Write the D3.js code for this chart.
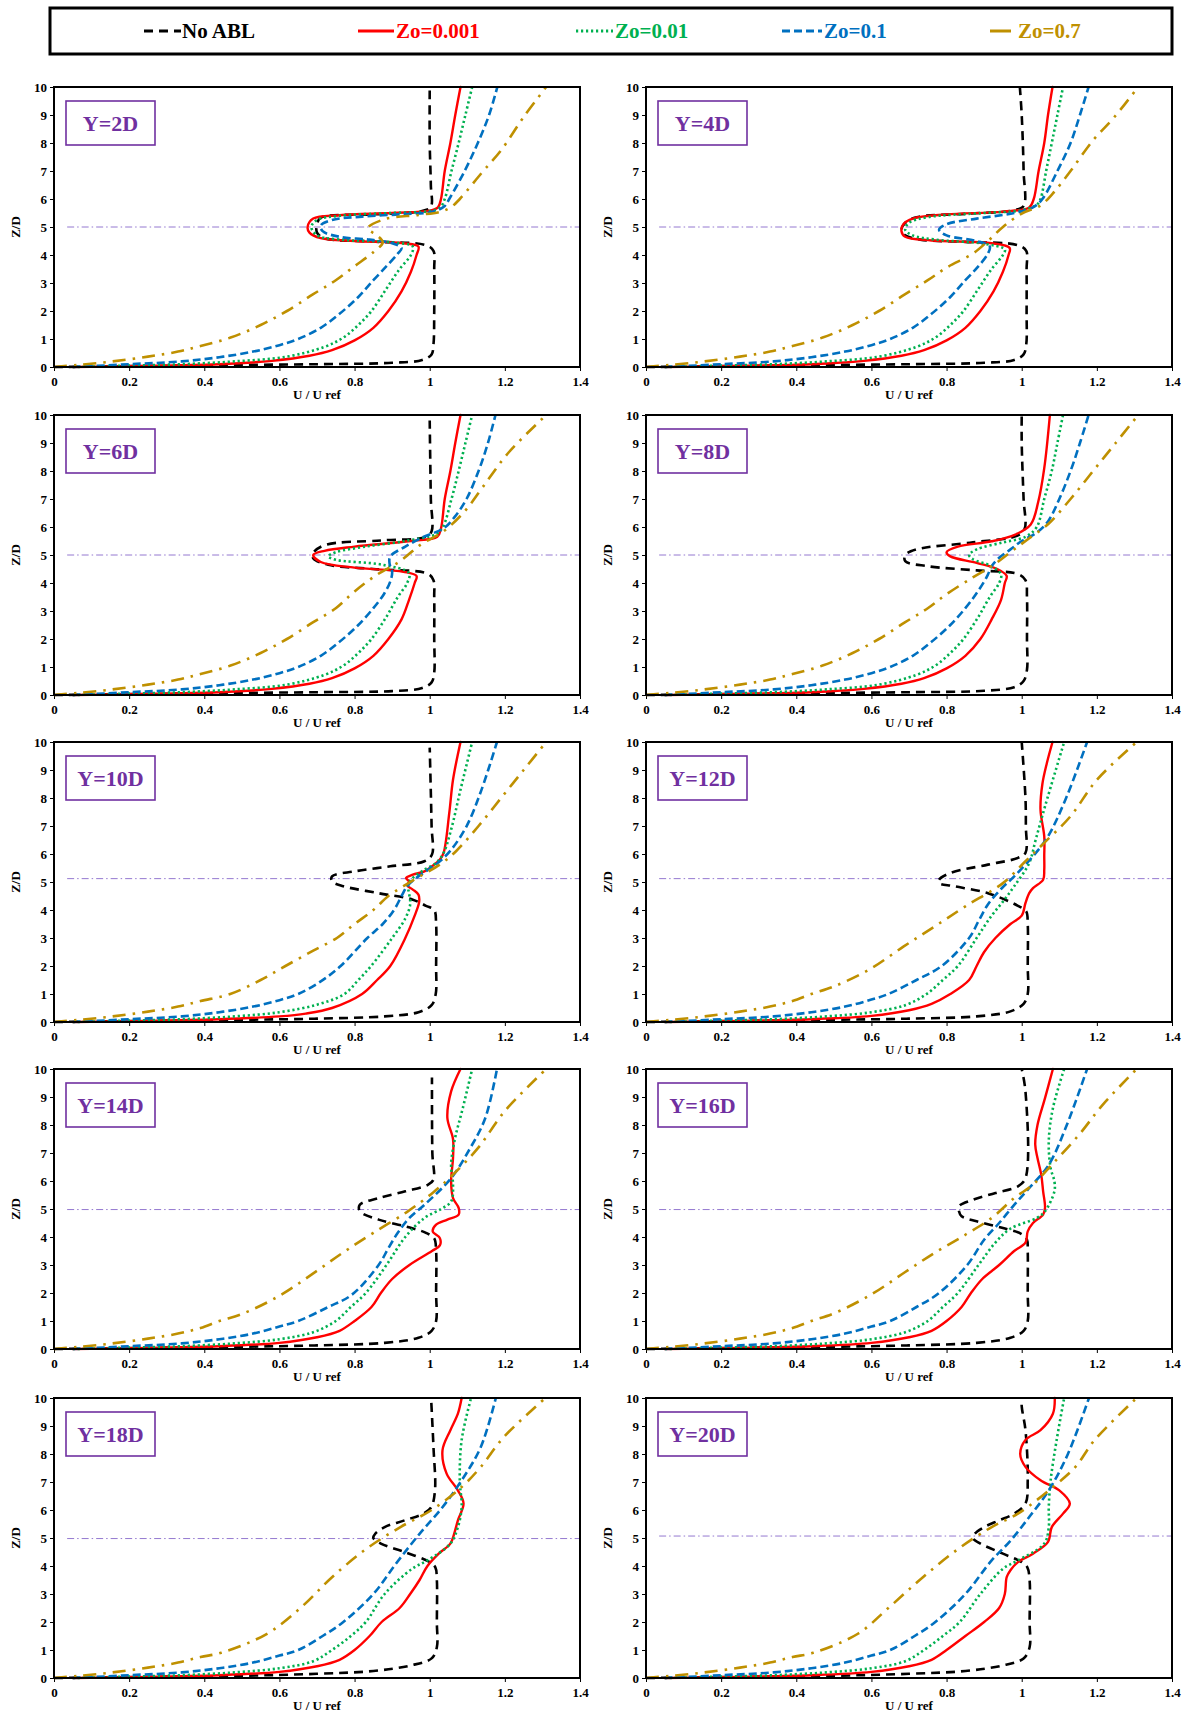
<!DOCTYPE html>
<html>
<head>
<meta charset="utf-8">
<script src="https://cdn.jsdelivr.net/npm/d3@7"></script>
<style>
  body { margin: 0; background: #fff; }
  svg { display: block; font-family: "Liberation Serif", "Times New Roman", serif; font-weight: bold; }
</style>
</head>
<body>
<div id="chart"></div>
<script>
// panel captions and the z of the dash-dot reference line in each panel
const panelLabels = ["Y=2D", "Y=4D", "Y=6D", "Y=8D", "Y=10D", "Y=12D", "Y=14D", "Y=16D", "Y=18D", "Y=20D"];
const refLineZ = [5, 5, 5, 5, 5.12, 5.12, 4.98, 4.98, 4.98, 5.07];

const seriesNames = ["No ABL", "Zo=0.001", "Zo=0.01", "Zo=0.1", "Zo=0.7"];
const xTicks = [0, 0.2, 0.4, 0.6, 0.8, 1, 1.2, 1.4];
const yTicks = [0, 1, 2, 3, 4, 5, 6, 7, 8, 9, 10];

// [U/Uref, Z/D] pairs, one array per panel
const noABL = [
  [[0,0],[0.2,0.03],[0.45,0.07],[0.7,0.1],[0.9,0.15],[0.98,0.25],[1.005,0.45],[1.01,0.8],[1.012,2],[1.012,3.5],[1.01,4.15],[0.99,4.35],[0.85,4.48],[0.72,4.6],[0.7,4.8],[0.7,5.1],[0.71,5.33],[0.85,5.45],[0.98,5.57],[1.003,5.72],[1.003,6.5],[1,8],[1,9.9]],
  [[0,0],[0.2,0.03],[0.45,0.07],[0.7,0.1],[0.9,0.15],[0.98,0.25],[1.005,0.45],[1.012,0.8],[1.013,2],[1.013,3.5],[1.012,4.15],[0.99,4.35],[0.85,4.47],[0.73,4.55],[0.69,4.7],[0.68,4.9],[0.69,5.15],[0.72,5.35],[0.85,5.47],[0.98,5.6],[1.005,5.75],[1.005,7],[1,9],[0.995,10]],
  [[0,0],[0.2,0.03],[0.45,0.07],[0.7,0.1],[0.9,0.14],[0.98,0.25],[1.005,0.45],[1.012,0.8],[1.012,2],[1.012,3.5],[1.01,4.1],[0.995,4.33],[0.85,4.5],[0.73,4.65],[0.69,4.88],[0.69,5.07],[0.72,5.35],[0.87,5.52],[0.99,5.65],[1.005,5.85],[1.003,7],[1,9.8]],
  [[0,0],[0.2,0.03],[0.45,0.07],[0.7,0.1],[0.9,0.15],[0.98,0.28],[1.005,0.5],[1.014,0.9],[1.014,2],[1.014,3.5],[1.01,4.1],[0.99,4.32],[0.88,4.45],[0.75,4.6],[0.69,4.78],[0.69,5],[0.72,5.2],[0.87,5.45],[0.99,5.7],[1.008,5.95],[1.005,7],[1,9],[1,10]],
  [[0,0],[0.25,0.04],[0.5,0.08],[0.7,0.12],[0.88,0.2],[0.97,0.35],[1.005,0.6],[1.016,1],[1.017,2],[1.017,3.5],[1.012,4],[0.99,4.15],[0.955,4.37],[0.864,4.6],[0.77,4.85],[0.74,5.02],[0.74,5.2],[0.8,5.38],[0.895,5.56],[0.986,5.74],[1.006,5.98],[1.005,7],[1,9.8]],
  [[0,0],[0.25,0.04],[0.5,0.08],[0.7,0.12],[0.88,0.2],[0.97,0.38],[1.005,0.65],[1.016,1],[1.016,2],[1.016,3.5],[1.012,3.95],[0.99,4.15],[0.91,4.6],[0.82,4.85],[0.78,4.96],[0.78,5.08],[0.81,5.32],[0.91,5.62],[0.99,5.86],[1.01,6.04],[1.011,7],[1.01,8],[1,10]],
  [[0,0],[0.25,0.04],[0.5,0.08],[0.7,0.13],[0.88,0.22],[0.97,0.4],[1.005,0.65],[1.017,1],[1.017,2],[1.017,3.5],[1.012,3.95],[0.99,4.15],[0.935,4.38],[0.864,4.62],[0.814,4.92],[0.814,5.15],[0.864,5.39],[0.935,5.63],[0.996,5.87],[1.01,6.05],[1.007,7],[1.006,9.7]],
  [[0,0],[0.25,0.04],[0.5,0.08],[0.7,0.13],[0.88,0.22],[0.97,0.4],[1.005,0.65],[1.016,1],[1.016,2],[1.016,3.5],[1.014,3.9],[1,4.1],[0.95,4.32],[0.88,4.56],[0.84,4.74],[0.833,4.92],[0.833,5.1],[0.87,5.33],[0.93,5.57],[0.99,5.81],[1.01,6.1],[1.01,9.2],[1,10]],
  [[0,0],[0.25,0.04],[0.5,0.08],[0.7,0.15],[0.85,0.25],[0.95,0.45],[1.005,0.7],[1.019,1.1],[1.019,2],[1.019,3.5],[1.015,3.95],[1,4.14],[0.933,4.5],[0.87,4.8],[0.85,5],[0.855,5.15],[0.88,5.39],[0.933,5.63],[0.983,5.87],[1.004,6.1],[1.014,6.7],[1.01,8.25],[1.004,9.9]],
  [[0,0],[0.25,0.04],[0.5,0.08],[0.7,0.15],[0.85,0.25],[0.95,0.45],[1.005,0.7],[1.021,1.1],[1.021,2],[1.021,3.5],[1.015,3.95],[1,4.14],[0.95,4.44],[0.89,4.8],[0.87,5],[0.875,5.15],[0.9,5.39],[0.94,5.63],[0.98,5.87],[1.01,6.23],[1.016,7.06],[1.01,8.85],[1,9.7],[1,10]]
];

const zo0001 = [
  [[0.05,0],[0.2,0.03],[0.44,0.1],[0.58,0.22],[0.68,0.4],[0.74,0.6],[0.8,0.95],[0.85,1.4],[0.89,2],[0.925,2.7],[0.95,3.4],[0.965,4],[0.97,4.3],[0.93,4.42],[0.8,4.5],[0.71,4.6],[0.68,4.8],[0.675,5],[0.69,5.3],[0.76,5.42],[0.9,5.5],[1,5.58],[1.022,5.7],[1.03,6],[1.04,7],[1.055,8],[1.068,9],[1.082,10]],
  [[0.05,0],[0.2,0.03],[0.44,0.1],[0.58,0.22],[0.68,0.4],[0.74,0.6],[0.8,0.95],[0.85,1.4],[0.89,2],[0.925,2.7],[0.95,3.4],[0.965,4],[0.968,4.25],[0.92,4.42],[0.76,4.52],[0.69,4.65],[0.68,4.85],[0.685,5.1],[0.71,5.3],[0.8,5.45],[0.95,5.55],[1.02,5.7],[1.032,6],[1.045,7],[1.06,8],[1.07,9],[1.082,10]],
  [[0.05,0],[0.2,0.03],[0.44,0.1],[0.58,0.22],[0.68,0.4],[0.74,0.6],[0.8,0.95],[0.85,1.4],[0.89,2],[0.925,2.7],[0.945,3.4],[0.96,4],[0.965,4.25],[0.93,4.4],[0.8,4.55],[0.71,4.75],[0.69,5],[0.72,5.15],[0.8,5.3],[0.95,5.5],[1.02,5.65],[1.03,5.95],[1.04,7],[1.055,8],[1.068,9],[1.082,10]],
  [[0.05,0],[0.2,0.03],[0.44,0.1],[0.58,0.22],[0.68,0.4],[0.74,0.6],[0.8,0.95],[0.85,1.4],[0.89,2],[0.92,2.7],[0.945,3.4],[0.955,4],[0.96,4.25],[0.935,4.5],[0.88,4.72],[0.81,4.95],[0.8,5.1],[0.83,5.3],[0.92,5.49],[0.983,5.73],[1.024,6.09],[1.044,6.9],[1.06,8.1],[1.075,10]],
  [[0.05,0],[0.2,0.03],[0.44,0.1],[0.6,0.2],[0.67,0.3],[0.74,0.5],[0.82,1],[0.86,1.5],[0.895,2],[0.935,3],[0.96,3.8],[0.972,4.3],[0.97,4.55],[0.955,4.73],[0.94,4.88],[0.945,5.02],[0.937,5.14],[0.955,5.26],[0.986,5.38],[1.006,5.56],[1.027,5.8],[1.037,6.04],[1.052,7.46],[1.062,8.65],[1.082,10]],
  [[0.05,0],[0.2,0.03],[0.44,0.1],[0.6,0.22],[0.7,0.42],[0.76,0.65],[0.81,1],[0.86,1.5],[0.88,2],[0.9,2.5],[0.93,3],[0.97,3.5],[1,3.8],[1.01,4.25],[1.02,4.6],[1.03,4.78],[1.057,5.08],[1.06,5.44],[1.06,5.92],[1.06,6.63],[1.05,7.58],[1.055,8.5],[1.067,9.25],[1.082,10]],
  [[0.05,0],[0.2,0.03],[0.44,0.1],[0.6,0.22],[0.7,0.42],[0.76,0.65],[0.8,1],[0.845,1.5],[0.87,2],[0.9,2.5],[0.946,3],[1.006,3.5],[1.027,3.7],[1.027,3.96],[1.008,4.2],[1.017,4.44],[1.047,4.62],[1.077,4.8],[1.077,5.04],[1.062,5.39],[1.057,5.99],[1.062,6.82],[1.062,7.5],[1.047,8.25],[1.057,9.2],[1.082,10]],
  [[0.05,0],[0.2,0.03],[0.44,0.1],[0.6,0.22],[0.7,0.42],[0.76,0.65],[0.8,1],[0.84,1.5],[0.865,2],[0.895,2.5],[0.94,3],[0.98,3.5],[1.01,3.8],[1.016,4.2],[1.03,4.5],[1.057,4.8],[1.062,5.04],[1.057,5.63],[1.052,6.22],[1.042,6.82],[1.036,7.3],[1.042,8],[1.062,8.96],[1.083,10]],
  [[0.05,0],[0.2,0.03],[0.44,0.1],[0.6,0.22],[0.7,0.42],[0.76,0.65],[0.8,1],[0.84,1.5],[0.872,2],[0.92,2.5],[0.948,3],[0.973,3.5],[0.994,4],[1.024,4.44],[1.055,4.8],[1.065,5.15],[1.075,5.63],[1.09,6.23],[1.075,6.7],[1.045,7.3],[1.034,8.13],[1.055,8.85],[1.075,9.44],[1.085,10]],
  [[0.05,0],[0.2,0.03],[0.44,0.1],[0.6,0.22],[0.7,0.42],[0.76,0.65],[0.8,1],[0.85,1.5],[0.9,2],[0.94,2.5],[0.955,3],[0.96,3.6],[0.97,3.85],[0.99,4.14],[1.03,4.44],[1.07,4.86],[1.08,5.39],[1.11,5.87],[1.128,6.23],[1.1,6.7],[1.05,7.06],[1.01,7.54],[0.996,8],[1.01,8.5],[1.05,8.85],[1.083,9.44],[1.088,10]]
];

const zo001 = [
  [[0.05,0],[0.2,0.05],[0.34,0.1],[0.48,0.2],[0.62,0.37],[0.72,0.72],[0.77,1.05],[0.81,1.5],[0.845,2],[0.885,2.8],[0.92,3.5],[0.95,4],[0.955,4.3],[0.9,4.45],[0.76,4.55],[0.7,4.7],[0.685,5],[0.7,5.25],[0.76,5.4],[0.9,5.5],[1,5.57],[1.028,5.7],[1.04,6],[1.058,7],[1.077,8],[1.095,9],[1.113,10]],
  [[0.05,0],[0.2,0.05],[0.34,0.1],[0.48,0.2],[0.62,0.37],[0.72,0.72],[0.77,1.05],[0.81,1.5],[0.845,2],[0.885,2.8],[0.92,3.5],[0.95,4],[0.955,4.2],[0.9,4.4],[0.77,4.55],[0.71,4.7],[0.69,4.9],[0.7,5.15],[0.75,5.35],[0.9,5.5],[1,5.6],[1.04,5.8],[1.05,6],[1.065,7],[1.08,8],[1.095,9],[1.11,10]],
  [[0.05,0],[0.2,0.05],[0.34,0.1],[0.48,0.2],[0.62,0.37],[0.72,0.72],[0.77,1.05],[0.81,1.5],[0.845,2],[0.885,2.8],[0.915,3.5],[0.94,4],[0.945,4.35],[0.875,4.65],[0.75,4.83],[0.73,4.95],[0.75,5.1],[0.83,5.3],[0.935,5.5],[1.017,5.75],[1.035,6],[1.058,7],[1.077,8],[1.095,9],[1.113,10]],
  [[0.05,0],[0.2,0.05],[0.34,0.1],[0.48,0.2],[0.62,0.37],[0.72,0.72],[0.77,1.05],[0.81,1.5],[0.845,2],[0.885,2.8],[0.915,3.5],[0.94,4],[0.945,4.3],[0.92,4.6],[0.87,4.85],[0.86,5],[0.88,5.2],[0.95,5.45],[1.01,5.65],[1.04,6],[1.06,7],[1.08,8],[1.095,9],[1.11,10]],
  [[0.05,0],[0.2,0.05],[0.34,0.1],[0.48,0.2],[0.6,0.35],[0.7,0.62],[0.773,1],[0.81,1.5],[0.844,2],[0.9,3],[0.935,3.7],[0.948,4.2],[0.945,4.6],[0.942,4.85],[0.95,5.08],[0.986,5.44],[1.017,5.68],[1.037,6.04],[1.057,6.87],[1.082,8.3],[1.113,10]],
  [[0.05,0],[0.2,0.05],[0.34,0.1],[0.48,0.2],[0.6,0.35],[0.69,0.6],[0.747,1],[0.79,1.5],[0.83,2],[0.88,3],[0.92,3.8],[0.95,4.3],[0.98,4.85],[1.02,5.68],[1.037,6.5],[1.062,7.7],[1.113,10]],
  [[0.05,0],[0.2,0.05],[0.34,0.1],[0.48,0.2],[0.6,0.35],[0.69,0.6],[0.75,1],[0.79,1.5],[0.83,2],[0.885,3],[0.935,4],[0.986,4.68],[1.03,5],[1.057,5.27],[1.062,5.87],[1.057,6.58],[1.067,7.5],[1.088,8.6],[1.113,10]],
  [[0.05,0],[0.2,0.05],[0.34,0.1],[0.48,0.2],[0.6,0.35],[0.69,0.6],[0.75,1],[0.79,1.5],[0.83,2],[0.885,3],[0.93,3.8],[0.97,4.3],[1.04,4.68],[1.062,4.92],[1.087,5.63],[1.087,5.99],[1.077,6.46],[1.072,7.41],[1.083,8.6],[1.113,10]],
  [[0.05,0],[0.2,0.05],[0.34,0.1],[0.48,0.2],[0.6,0.35],[0.69,0.6],[0.74,1],[0.79,1.5],[0.83,2],[0.88,3],[0.953,3.9],[0.994,4.2],[1.055,4.8],[1.075,5.39],[1.085,6.1],[1.08,7.06],[1.085,8.5],[1.11,10]],
  [[0.05,0],[0.2,0.05],[0.34,0.1],[0.48,0.2],[0.6,0.35],[0.69,0.6],[0.74,1],[0.79,1.5],[0.835,2],[0.89,3],[0.95,3.9],[0.99,4.2],[1.06,4.8],[1.072,5.39],[1.072,6.1],[1.077,7.06],[1.093,8.5],[1.113,10]]
];

const zo01 = [
  [[0.05,0],[0.2,0.1],[0.34,0.2],[0.44,0.35],[0.53,0.55],[0.6,0.78],[0.65,1],[0.71,1.4],[0.76,1.9],[0.81,2.5],[0.85,3.1],[0.885,3.6],[0.915,4.05],[0.925,4.25],[0.9,4.42],[0.84,4.55],[0.76,4.65],[0.715,4.85],[0.71,5.05],[0.74,5.25],[0.82,5.37],[0.93,5.46],[1.01,5.55],[1.04,5.75],[1.052,6],[1.093,7],[1.128,8],[1.158,9],[1.18,10]],
  [[0.05,0],[0.2,0.1],[0.34,0.2],[0.44,0.35],[0.53,0.55],[0.6,0.78],[0.65,1],[0.71,1.4],[0.76,1.9],[0.81,2.5],[0.85,3.1],[0.885,3.6],[0.91,4.05],[0.915,4.3],[0.88,4.5],[0.8,4.7],[0.78,4.9],[0.8,5.1],[0.88,5.3],[0.98,5.5],[1.03,5.7],[1.055,6],[1.095,7],[1.13,8],[1.155,9],[1.178,10]],
  [[0.05,0],[0.2,0.1],[0.34,0.2],[0.44,0.35],[0.53,0.55],[0.6,0.78],[0.65,1],[0.71,1.4],[0.76,1.9],[0.81,2.5],[0.85,3.1],[0.878,3.6],[0.895,4.05],[0.9,4.4],[0.893,4.7],[0.895,4.95],[0.935,5.3],[0.986,5.66],[1.037,5.95],[1.067,6.37],[1.098,7],[1.13,8],[1.155,9],[1.175,10]],
  [[0.05,0],[0.2,0.1],[0.34,0.2],[0.44,0.35],[0.53,0.55],[0.6,0.78],[0.65,1],[0.71,1.4],[0.76,1.9],[0.81,2.5],[0.85,3.1],[0.878,3.6],[0.9,4.05],[0.91,4.3],[0.92,4.6],[0.94,4.9],[0.97,5.2],[1,5.5],[1.04,5.8],[1.07,6.2],[1.1,7],[1.13,8],[1.155,9],[1.178,10]],
  [[0.05,0],[0.2,0.1],[0.34,0.2],[0.44,0.35],[0.53,0.55],[0.6,0.78],[0.65,1],[0.71,1.45],[0.763,2],[0.834,3],[0.875,3.5],[0.905,4],[0.925,4.5],[0.94,4.85],[0.96,5.1],[0.996,5.44],[1.027,5.74],[1.057,6.15],[1.098,6.99],[1.138,8.3],[1.179,10]],
  [[0.05,0],[0.2,0.1],[0.34,0.2],[0.44,0.35],[0.53,0.55],[0.6,0.8],[0.645,1],[0.72,1.5],[0.787,2],[0.86,3],[0.885,3.6],[0.91,4.2],[0.945,4.75],[0.98,5.2],[1.03,5.92],[1.07,6.63],[1.12,8.06],[1.174,10]],
  [[0.05,0],[0.2,0.1],[0.34,0.2],[0.44,0.35],[0.53,0.55],[0.6,0.8],[0.65,1],[0.73,1.5],[0.793,1.94],[0.864,3],[0.89,3.6],[0.915,4.15],[0.946,4.68],[0.986,5.15],[1.057,6.1],[1.108,7.18],[1.148,8.25],[1.179,10]],
  [[0.05,0],[0.2,0.1],[0.34,0.2],[0.44,0.35],[0.53,0.55],[0.6,0.8],[0.65,1],[0.72,1.5],[0.78,2],[0.855,3],[0.9,3.9],[0.94,4.5],[0.98,5.15],[1.02,5.75],[1.072,6.58],[1.12,8],[1.174,10]],
  [[0.05,0],[0.2,0.1],[0.34,0.2],[0.44,0.35],[0.53,0.55],[0.6,0.8],[0.65,1],[0.715,1.5],[0.77,2],[0.85,3],[0.91,4.08],[0.973,5.15],[1.034,6.1],[1.085,7.06],[1.136,8.25],[1.176,10]],
  [[0.05,0],[0.2,0.1],[0.34,0.2],[0.44,0.35],[0.53,0.55],[0.6,0.8],[0.65,1],[0.715,1.5],[0.77,2],[0.85,3],[0.92,4.2],[0.97,4.9],[1.02,5.75],[1.072,6.7],[1.123,8],[1.179,10]]
];

const zo07 = [
  [[0,0],[0.06,0.07],[0.15,0.19],[0.25,0.37],[0.33,0.55],[0.39,0.75],[0.47,1.05],[0.55,1.5],[0.62,2],[0.69,2.6],[0.75,3.1],[0.8,3.6],[0.85,4.1],[0.875,4.45],[0.86,4.7],[0.835,4.95],[0.88,5.28],[0.97,5.43],[1.03,5.55],[1.057,5.71],[1.08,6],[1.14,6.96],[1.19,7.74],[1.25,8.93],[1.31,10]],
  [[0,0],[0.06,0.07],[0.15,0.19],[0.25,0.37],[0.33,0.55],[0.39,0.75],[0.47,1.05],[0.55,1.5],[0.62,2],[0.69,2.6],[0.75,3.1],[0.8,3.55],[0.87,4.05],[0.91,4.5],[0.95,5],[1,5.48],[1.05,5.77],[1.083,6.2],[1.13,7],[1.19,8.1],[1.245,8.9],[1.31,10]],
  [[0,0],[0.06,0.07],[0.15,0.19],[0.25,0.37],[0.33,0.55],[0.39,0.75],[0.47,1.05],[0.55,1.5],[0.62,2],[0.69,2.6],[0.75,3.1],[0.8,3.7],[0.86,4.3],[0.92,4.77],[0.976,5.37],[1.037,5.85],[1.093,6.56],[1.143,7.46],[1.21,8.66],[1.31,10]],
  [[0,0],[0.06,0.07],[0.15,0.19],[0.25,0.37],[0.33,0.55],[0.39,0.75],[0.47,1.05],[0.55,1.5],[0.62,2],[0.69,2.6],[0.75,3.1],[0.8,3.6],[0.87,4.2],[0.92,4.6],[0.97,5.1],[1.02,5.6],[1.07,6.1],[1.13,7],[1.19,8],[1.25,9],[1.31,10]],
  [[0,0],[0.06,0.07],[0.15,0.19],[0.25,0.37],[0.33,0.55],[0.39,0.75],[0.469,1],[0.55,1.5],[0.616,2],[0.69,2.55],[0.753,3],[0.8,3.5],[0.85,4],[0.89,4.5],[0.93,4.85],[0.98,5.25],[1.03,5.65],[1.07,6.1],[1.13,7],[1.19,8],[1.25,9],[1.31,10]],
  [[0,0],[0.06,0.07],[0.15,0.19],[0.25,0.37],[0.33,0.55],[0.39,0.75],[0.44,1],[0.5,1.27],[0.594,1.87],[0.686,2.7],[0.767,3.4],[0.85,4.13],[0.95,4.96],[1.01,5.74],[1.06,6.4],[1.13,7.35],[1.2,8.65],[1.306,10]],
  [[0,0],[0.06,0.07],[0.15,0.19],[0.25,0.37],[0.33,0.55],[0.39,0.75],[0.44,1],[0.5,1.25],[0.6,1.9],[0.69,2.7],[0.77,3.45],[0.85,4.15],[0.94,4.9],[1.01,5.6],[1.06,6.2],[1.13,7.2],[1.2,8.5],[1.31,10]],
  [[0,0],[0.06,0.07],[0.15,0.19],[0.25,0.37],[0.33,0.55],[0.39,0.75],[0.44,1],[0.5,1.27],[0.6,1.95],[0.69,2.75],[0.77,3.45],[0.85,4.08],[0.92,4.68],[0.98,5.39],[1.03,5.87],[1.08,6.58],[1.153,7.66],[1.216,8.73],[1.306,10]],
  [[0,0],[0.06,0.07],[0.15,0.19],[0.25,0.37],[0.33,0.55],[0.39,0.75],[0.445,0.9],[0.567,1.58],[0.66,2.55],[0.74,3.6],[0.83,4.6],[0.922,5.39],[1.004,5.99],[1.085,6.82],[1.136,7.54],[1.197,8.6],[1.308,10]],
  [[0,0],[0.06,0.07],[0.15,0.19],[0.25,0.37],[0.33,0.55],[0.39,0.75],[0.445,0.9],[0.564,1.58],[0.645,2.5],[0.737,3.6],[0.83,4.6],[0.92,5.39],[0.99,5.87],[1.083,6.82],[1.143,7.54],[1.194,8.5],[1.306,10]]
];

const allSeries = [noABL, zo0001, zo001, zo01, zo07];

// look of each series (legend order; later series drawn on top)
const styles = [
  { color: "#000000", dash: "9,6", legendDash: "9,6", width: 2.6, cap: "butt" },
  { color: "#ff0000", dash: null, legendDash: null, width: 2.4, cap: "round" },
  { color: "#00b050", dash: "2.2,2.8", legendDash: "2.2,2.8", width: 2.6, cap: "butt" },
  { color: "#0070c0", dash: "8,4", legendDash: "8,4", width: 2.6, cap: "butt" },
  { color: "#bf9000", dash: "13,7,2.5,7", legendDash: null, width: 2.6, cap: "butt" }
];

const W = 1190, H = 1713;
const colX = [54, 646], rowY = [87, 415, 742, 1069, 1398];
const pw = 526, ph = 280;

const svg = d3.select("#chart").append("svg")
  .attr("width", W)
  .attr("height", H);

svg.append("rect").attr("width", W).attr("height", H).attr("fill", "#fff");

// ---- legend ----
const legend = svg.append("g");
legend.append("rect")
  .attr("x", 50).attr("y", 8)
  .attr("width", 1122).attr("height", 46)
  .attr("fill", "#fff")
  .attr("stroke", "#000")
  .attr("stroke-width", 3);

const legendLineX = [[144, 181], [358, 394], [576, 613], [782, 822], [990, 1011]];
const legendTextX = [182, 396, 615, 824, 1018];

seriesNames.forEach((name, i) => {
  const s = styles[i];
  legend.append("line")
    .attr("x1", legendLineX[i][0]).attr("x2", legendLineX[i][1])
    .attr("y1", 31).attr("y2", 31)
    .attr("stroke", s.color)
    .attr("stroke-width", 3)
    .attr("stroke-dasharray", s.legendDash);
  legend.append("text")
    .attr("x", legendTextX[i]).attr("y", 38)
    .attr("font-size", 21)
    .attr("fill", s.color)
    .text(name);
});

// ---- panels ----
const defs = svg.append("defs");

function drawPanel(i) {
  const col = i % 2, row = Math.floor(i / 2);
  const g = svg.append("g").attr("transform", `translate(${colX[col]}, ${rowY[row]})`);

  const x = d3.scaleLinear().domain([0, 1.4]).range([0, pw]);
  const y = d3.scaleLinear().domain([0, 10]).range([ph, 0]);

  defs.append("clipPath").attr("id", "clip" + i)
    .append("rect").attr("x", -2).attr("y", -2).attr("width", pw + 4).attr("height", ph + 4);

  // axes
  const xAxis = g.append("g")
    .attr("transform", `translate(0, ${ph})`)
    .call(d3.axisBottom(x).tickValues(xTicks).tickSize(4).tickPadding(6).tickFormat(d3.format("~g")));
  const yAxis = g.append("g")
    .call(d3.axisLeft(y).tickValues(yTicks).tickSize(4).tickPadding(3).tickFormat(d3.format("d")));

  [xAxis, yAxis].forEach(a => {
    a.select(".domain").remove();
    a.attr("font-family", null).attr("font-size", 13);
    a.selectAll(".tick line").attr("stroke", "#000");
    a.selectAll(".tick text").attr("fill", "#000");
  });

  // axis titles
  g.append("text")
    .attr("x", pw / 2).attr("y", ph + 32)
    .attr("text-anchor", "middle")
    .attr("font-size", 13)
    .text("U / U ref");
  g.append("text")
    .attr("transform", `translate(-34, ${ph / 2}) rotate(-90)`)
    .attr("text-anchor", "middle")
    .attr("font-size", 13)
    .text("Z/D");

  // reference line at the obstacle height
  g.append("line")
    .attr("x1", x(0.035)).attr("x2", x(1.4))
    .attr("y1", y(refLineZ[i])).attr("y2", y(refLineZ[i]))
    .attr("stroke", "#9479d0")
    .attr("stroke-width", 1)
    .attr("stroke-dasharray", "7,3,1.5,3");

  // curves
  const line = d3.line()
    .x(d => x(d[0]))
    .y(d => y(d[1]))
    .curve(d3.curveCatmullRom.alpha(0.5));

  const curves = g.append("g").attr("clip-path", `url(#clip${i})`);
  allSeries.forEach((series, k) => {
    const s = styles[k];
    curves.append("path")
      .attr("d", line(series[i]))
      .attr("fill", "none")
      .attr("stroke", s.color)
      .attr("stroke-width", s.width)
      .attr("stroke-linecap", s.cap)
      .attr("stroke-linejoin", "round")
      .attr("stroke-dasharray", s.dash);
  });

  // plot frame
  g.append("rect")
    .attr("width", pw).attr("height", ph)
    .attr("fill", "none")
    .attr("stroke", "#000")
    .attr("stroke-width", 2);

  // panel caption box
  g.append("rect")
    .attr("x", 12).attr("y", 14)
    .attr("width", 89).attr("height", 44)
    .attr("fill", "#fff")
    .attr("stroke", "#7030a0")
    .attr("stroke-width", 1.6);
  g.append("text")
    .attr("x", 56.5).attr("y", 44)
    .attr("text-anchor", "middle")
    .attr("font-size", 22)
    .attr("fill", "#7030a0")
    .text(panelLabels[i]);
}

panelLabels.forEach((_, i) => drawPanel(i));
</script>
</body>
</html>
